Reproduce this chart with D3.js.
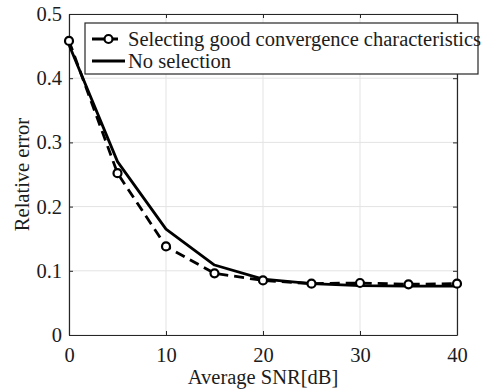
<!DOCTYPE html>
<html>
<head>
<meta charset="utf-8">
<script src="https://cdn.jsdelivr.net/npm/d3@7"></script>
<style>
  html, body { margin: 0; padding: 0; background: #fff; }
  svg { display: block; font-family: "Liberation Serif", "Times New Roman", serif; }
</style>
</head>
<body>
<svg id="chart" width="482" height="392"></svg>
<script>
// Average SNR in dB
const snr = [0, 5, 10, 15, 20, 25, 30, 35, 40];
// Relative error when selecting good convergence characteristics
const selectedError = [0.458, 0.252, 0.138, 0.096, 0.085, 0.080, 0.081, 0.079, 0.080];
// Relative error with no selection
const noSelectionError = [0.452, 0.270, 0.165, 0.109, 0.087, 0.080, 0.077, 0.076, 0.076];

const xTicks = [0, 10, 20, 30, 40];
const yTicks = [0, 0.1, 0.2, 0.3, 0.4, 0.5];
const seriesNames = ["Selecting good convergence characteristics", "No selection"];

const svg = d3.select("#chart");
const m = { left: 69, right: 457, top: 14, bottom: 335 };
const axisColor = "#262626";
const textColor = "#1c1c1c";
const fontFamily = "'Liberation Serif', 'Times New Roman', serif";
const fontSize = 20.5;
const lineWidth = 2.8;

const x = d3.scaleLinear().domain([0, 40]).range([m.left, m.right]);
const y = d3.scaleLinear().domain([0, 0.5]).range([m.bottom, m.top]);

// grid
const grid = svg.append("g");
grid.selectAll(".gx").data(xTicks).join("line")
  .attr("x1", d => x(d)).attr("x2", d => x(d))
  .attr("y1", m.top).attr("y2", m.bottom)
  .attr("stroke", "#e3e3e3").attr("stroke-width", 1);
grid.selectAll(".gy").data(yTicks).join("line")
  .attr("x1", m.left).attr("x2", m.right)
  .attr("y1", d => y(d)).attr("y2", d => y(d))
  .attr("stroke", "#e3e3e3").attr("stroke-width", 1);

// axes (ticks point inward)
const tickLen = 4;
const xAxis = svg.append("g").attr("transform", `translate(0,${m.bottom})`)
  .call(d3.axisBottom(x).tickValues(xTicks).tickSizeInner(-tickLen).tickSizeOuter(0).tickPadding(12).tickFormat(d3.format("d")));
const yAxis = svg.append("g").attr("transform", `translate(${m.left},0)`)
  .call(d3.axisLeft(y).tickValues(yTicks).tickSizeInner(-tickLen).tickSizeOuter(0).tickPadding(7).tickFormat(d => d === 0 ? "0" : d3.format(".1f")(d)));
const xTop = svg.append("g").attr("transform", `translate(0,${m.top})`)
  .call(d3.axisTop(x).tickValues(xTicks).tickSizeInner(-tickLen).tickSizeOuter(0).tickFormat(""));
const yRight = svg.append("g").attr("transform", `translate(${m.right},0)`)
  .call(d3.axisRight(y).tickValues(yTicks).tickSizeInner(-tickLen).tickSizeOuter(0).tickFormat(""));

[xAxis, yAxis, xTop, yRight].forEach(g => {
  g.attr("font-family", fontFamily).attr("font-size", fontSize);
  g.select(".domain").attr("stroke", axisColor).attr("stroke-width", 1.2);
  g.selectAll(".tick line").attr("stroke", axisColor).attr("stroke-width", 1);
  g.selectAll("text").attr("fill", textColor);
});

// axis titles
svg.append("text")
  .attr("x", x(20)).attr("y", 384)
  .attr("text-anchor", "middle")
  .attr("fill", textColor)
  .attr("font-family", fontFamily).attr("font-size", fontSize)
  .text("Average SNR[dB]");
svg.append("text")
  .attr("transform", `translate(29,${(m.top + m.bottom) / 2}) rotate(-90)`)
  .attr("text-anchor", "middle")
  .attr("fill", textColor)
  .attr("font-family", fontFamily).attr("font-size", fontSize)
  .text("Relative error");

// series
const pts = arr => snr.map((s, i) => [s, arr[i]]);
const line = d3.line().x(d => x(d[0])).y(d => y(d[1]));

svg.append("path")
  .datum(pts(noSelectionError))
  .attr("d", line)
  .attr("fill", "none").attr("stroke", "#000").attr("stroke-width", lineWidth)
  .attr("stroke-linejoin", "round");

svg.append("path")
  .datum(pts(selectedError))
  .attr("d", line)
  .attr("fill", "none").attr("stroke", "#000").attr("stroke-width", lineWidth)
  .attr("stroke-dasharray", "10,6");

svg.append("g").selectAll("circle")
  .data(pts(selectedError)).join("circle")
  .attr("cx", d => x(d[0])).attr("cy", d => y(d[1]))
  .attr("r", 4)
  .attr("fill", "#fff").attr("stroke", "#000").attr("stroke-width", 2.2);

// legend
const lg = svg.append("g");
lg.append("rect")
  .attr("x", 85).attr("y", 23).attr("width", 393).attr("height", 51)
  .attr("fill", "#fff").attr("stroke", axisColor).attr("stroke-width", 1.2);
const rows = [39, 61];
lg.append("line").attr("x1", 92).attr("x2", 125).attr("y1", rows[0]).attr("y2", rows[0])
  .attr("stroke", "#000").attr("stroke-width", lineWidth).attr("stroke-dasharray", "14,3,9");
lg.append("circle").attr("cx", 108.5).attr("cy", rows[0]).attr("r", 4)
  .attr("fill", "#fff").attr("stroke", "#000").attr("stroke-width", 2.2);
lg.append("line").attr("x1", 92).attr("x2", 125).attr("y1", rows[1]).attr("y2", rows[1])
  .attr("stroke", "#000").attr("stroke-width", lineWidth);
lg.selectAll(".lt").data(seriesNames).join("text")
  .attr("x", 128).attr("y", (d, i) => rows[i])
  .attr("dy", "0.34em")
  .attr("fill", textColor)
  .attr("font-family", fontFamily).attr("font-size", fontSize)
  .text(d => d);
</script>
</body>
</html>
